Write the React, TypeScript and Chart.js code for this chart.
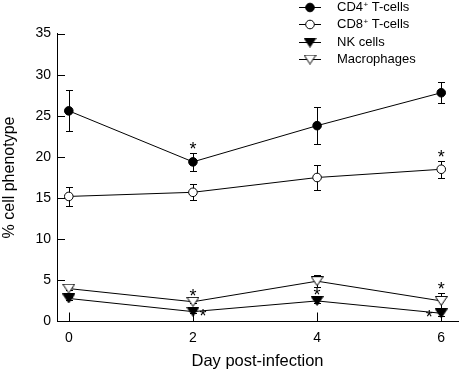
import React, { useEffect, useRef } from "react";
import { Chart, registerables } from "chart.js";
Chart.register(...registerables);

// ---- data ----
const days = [0, 2, 4, 6];
const xTickValues = [0, 2, 4, 6];
const yTickValues = [5, 10, 15, 20, 25, 30, 35];
const cd4 = [25.6, 19.4, 23.8, 27.8];
const cd4Err = [2.5, 1.1, 2.25, 1.3];
const cd8 = [15.2, 15.7, 17.5, 18.5];
const cd8Err = [1.15, 0.95, 1.55, 1.0];
const nk = [2.8, 1.2, 2.5, 1.0];
const nkErr = [0.2, 0.2, 0.2, 0.3];
const macro = [4.0, 2.4, 4.9, 2.5];
const macroErr = [0.2, 0.2, 0.75, 0.93];
const legendMain = ["CD4", "CD8", "NK cells", "Macrophages"];
const legendSup = ["+", "+", "", ""];
const legendRest = [" T-cells", " T-cells", "", ""];
// significance asterisks: series index, day index, side
const starSeries = [0, 1, 3, 2, 2, 3, 2];
const starDay = [1, 3, 1, 1, 2, 3, 3];
const starSide = ["top", "top", "top", "right", "top", "top", "left"];

const FONT = "'Liberation Sans', Arial, Helvetica, sans-serif";

function makeTriangle(filled: boolean): HTMLCanvasElement {
  const c = document.createElement("canvas");
  c.width = 13;
  c.height = 10;
  const g = c.getContext("2d")!;
  g.beginPath();
  g.moveTo(0.5, 0.5);
  g.lineTo(12.5, 0.5);
  g.lineTo(6.5, 9.5);
  g.closePath();
  g.fillStyle = filled ? "#000" : "#fff";
  g.fill();
  g.strokeStyle = "#000";
  g.lineWidth = 1;
  g.stroke();
  return c;
}

export default function App() {
  const ref = useRef<HTMLCanvasElement | null>(null);
  useEffect(() => {
    if (!ref.current) return;
    const triFilled = makeTriangle(true);
    const triOpen = makeTriangle(false);
    const values = [cd4, cd8, nk, macro];
    const errs = [cd4Err, cd8Err, nkErr, macroErr];

    const mk = (arr: number[]) => days.map((d, i) => ({ x: d, y: arr[i] }));
    const styles: any[] = [
      { pointStyle: "circle", pointRadius: 4.3, pointBackgroundColor: "#000" },
      { pointStyle: "circle", pointRadius: 4.3, pointBackgroundColor: "#fff" },
      { pointStyle: triFilled, pointRadius: 6 },
      { pointStyle: triOpen, pointRadius: 6 },
    ];

    const errorPlugin = {
      id: "errs",
      beforeDatasetsDraw(chart: any) {
        const { ctx } = chart;
        const xs = chart.scales.x;
        const ys = chart.scales.y;
        ctx.save();
        ctx.strokeStyle = "#000";
        ctx.lineWidth = 1;
        values.forEach((arr, s) => {
          arr.forEach((v, i) => {
            const x = Math.round(xs.getPixelForValue(days[i])) + 0.5;
            const yt = Math.round(ys.getPixelForValue(v + errs[s][i])) + 0.5;
            const yb = Math.round(ys.getPixelForValue(v - errs[s][i])) + 0.5;
            ctx.beginPath();
            ctx.moveTo(x, yt);
            ctx.lineTo(x, yb);
            ctx.moveTo(x - 3.5, yt);
            ctx.lineTo(x + 3.5, yt);
            ctx.moveTo(x - 3.5, yb);
            ctx.lineTo(x + 3.5, yb);
            ctx.stroke();
          });
        });
        ctx.restore();
      },
    };

    const overlayPlugin = {
      id: "overlay",
      afterDraw(chart: any) {
        const { ctx, chartArea } = chart;
        const xs = chart.scales.x;
        const ys = chart.scales.y;
        ctx.save();
        // inward ticks
        ctx.strokeStyle = "#000";
        ctx.lineWidth = 1;
        ctx.beginPath();
        xTickValues.forEach((v) => {
          const x = Math.round(xs.getPixelForValue(v)) + 0.5;
          ctx.moveTo(x, chartArea.bottom);
          ctx.lineTo(x, chartArea.bottom - 9);
        });
        yTickValues.forEach((v) => {
          const y = Math.round(ys.getPixelForValue(v)) + 0.5;
          ctx.moveTo(chartArea.left, y);
          ctx.lineTo(chartArea.left + 8, y);
        });
        ctx.stroke();

        // asterisks
        ctx.fillStyle = "#000";
        ctx.font = `18px ${FONT}`;
        ctx.textAlign = "center";
        ctx.textBaseline = "alphabetic";
        starSeries.forEach((s, k) => {
          const i = starDay[k];
          const v = values[s][i];
          const x = xs.getPixelForValue(days[i]);
          let cx = x;
          let cy = ys.getPixelForValue(v);
          if (starSide[k] === "top") cy = ys.getPixelForValue(v + errs[s][i]) - 8;
          else if (starSide[k] === "right") cx = x + 10;
          else cx = x - 12;
          ctx.fillText("*", cx, cy + 10);
        });

        // legend
        const rowsY = [6.5, 24, 41.7, 59.3];
        const lx0 = 299;
        const lx1 = 321;
        const mx = 310;
        const tx = 337;
        ctx.textAlign = "left";
        ctx.textBaseline = "middle";
        legendMain.forEach((name, r) => {
          const y = Math.round(rowsY[r]) + 0.5;
          ctx.strokeStyle = "#000";
          ctx.lineWidth = 1;
          ctx.beginPath();
          ctx.moveTo(lx0, y);
          ctx.lineTo(lx1, y);
          ctx.stroke();
          if (r < 2) {
            ctx.beginPath();
            ctx.arc(mx, y, 4.3, 0, Math.PI * 2);
            ctx.fillStyle = r === 0 ? "#000" : "#fff";
            ctx.fill();
            ctx.stroke();
          } else {
            const img = r === 2 ? triFilled : triOpen;
            ctx.drawImage(img, mx - 6.5, y - 5);
          }
          ctx.fillStyle = "#000";
          ctx.font = `13px ${FONT}`;
          ctx.fillText(name, tx, y);
          let w = ctx.measureText(name).width;
          if (legendSup[r]) {
            ctx.font = `8px ${FONT}`;
            ctx.fillText(legendSup[r], tx + w + 0.5, y - 3);
            w += ctx.measureText(legendSup[r]).width + 0.5;
            ctx.font = `13px ${FONT}`;
            ctx.fillText(legendRest[r], tx + w, y);
          }
        });
        ctx.restore();
      },
    };

    const chart = new Chart(ref.current, {
      type: "line",
      data: {
        datasets: [cd4, cd8, nk, macro].map((arr, s) => ({
          label: legendMain[s],
          data: mk(arr),
          borderColor: "#000",
          borderWidth: 1,
          pointBorderColor: "#000",
          pointBorderWidth: 1,
          tension: 0,
          fill: false,
          ...styles[s],
        })),
      },
      options: {
        animation: false,
        responsive: false,
        devicePixelRatio: 1,
        layout: { padding: { top: 33.5, right: 1, left: 0, bottom: 0 } },
        plugins: { legend: { display: false }, tooltip: { enabled: false } },
        scales: {
          x: {
            type: "linear",
            min: -0.19,
            max: 6.27,
            afterBuildTicks: (axis: any) => {
              axis.ticks = xTickValues.map((v) => ({ value: v }));
            },
            afterFit: (scale: any) => {
              scale.height = 49.5;
            },
            grid: { display: false, drawTicks: false },
            border: { display: true, color: "#000", width: 1 },
            ticks: { color: "#000", font: { family: FONT, size: 14 }, padding: 8, maxRotation: 0 },
            title: {
              display: true,
              text: "Day post-infection",
              color: "#000",
              font: { family: FONT, size: 16.5 },
              padding: { top: 0, bottom: 0 },
            },
          },
          y: {
            type: "linear",
            min: 0,
            max: 35,
            afterFit: (scale: any) => {
              scale.width = 57;
            },
            grid: { display: false, drawTicks: false },
            border: { display: true, color: "#000", width: 1 },
            ticks: { stepSize: 5, color: "#000", font: { family: FONT, size: 14 }, padding: 6 },
            title: {
              display: true,
              text: "% cell phenotype",
              color: "#000",
              font: { family: FONT, size: 16 },
              padding: { top: 0, bottom: 0 },
            },
          },
        },
      },
      plugins: [errorPlugin, overlayPlugin],
    } as any);
    return () => chart.destroy();
  }, []);

  return (
    <div style={{ position: "fixed", left: 0, top: 0, width: 465, height: 371, background: "#fff" }}>
      <canvas ref={ref} width={465} height={371} style={{ display: "block", width: 465, height: 371 }} />
    </div>
  );
}
